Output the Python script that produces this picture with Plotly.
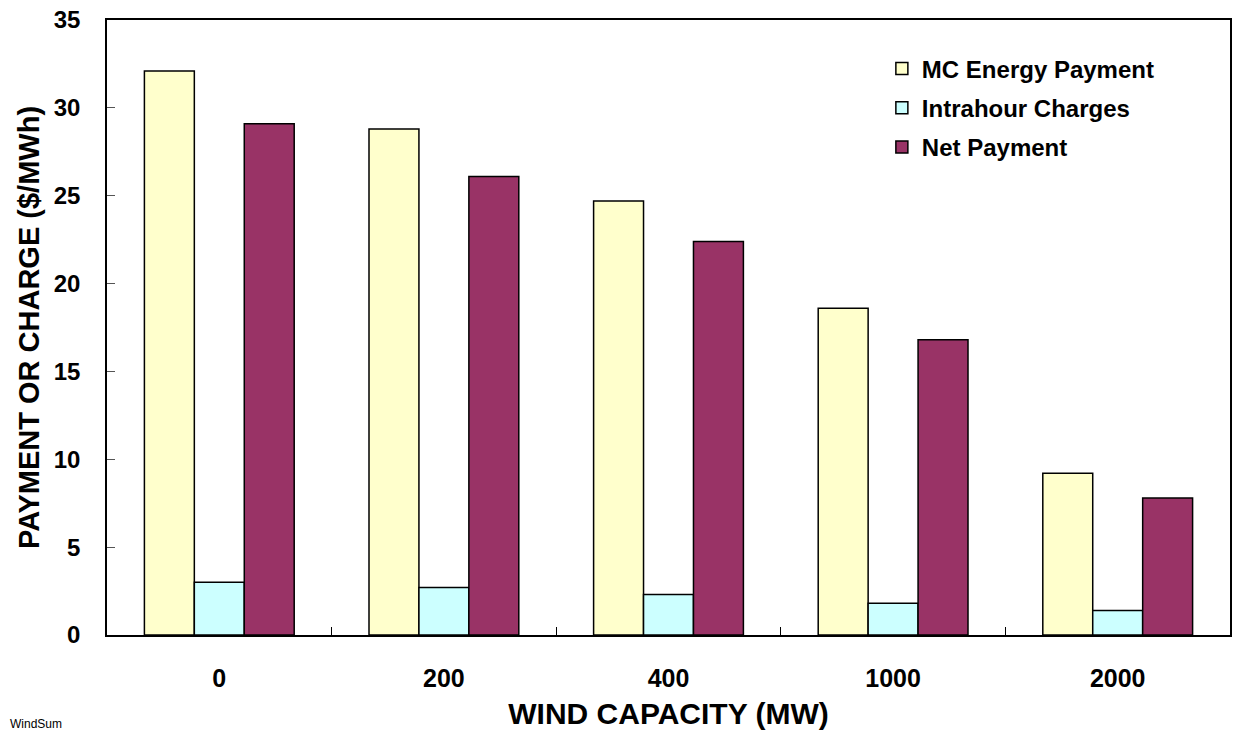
import plotly.graph_objects as go

# Wind capacity scenarios (MW) and payments/charges ($/MWh)
capacity = ["0", "200", "400", "1000", "2000"]
mc_energy_payment = [32.1, 28.8, 24.7, 18.6, 9.2]
intrahour_charges = [3.0, 2.7, 2.3, 1.8, 1.4]
net_payment = [29.1, 26.1, 22.4, 16.8, 7.8]

series = [
    ("MC Energy Payment", mc_energy_payment, "#FFFFCC"),
    ("Intrahour Charges", intrahour_charges, "#CCFFFF"),
    ("Net Payment", net_payment, "#993366"),
]

FONT = "Liberation Sans, Arial, sans-serif"

fig = go.Figure()
for i, (name, vals, color) in enumerate(series):
    fig.add_trace(go.Bar(
        x=capacity, y=vals, name=name, legendgroup=f"g{i}",
        marker=dict(color=color, line=dict(color="black", width=1.5)),
    ))

fig.update_layout(
    width=1238, height=731,
    margin=dict(l=107, r=6, t=16, b=96),
    paper_bgcolor="white", plot_bgcolor="white",
    barmode="group", bargap=0.333, bargroupgap=0,
    font=dict(family=FONT, color="black"),
    showlegend=True,
    legend=dict(
        x=0.69, y=0.957, xanchor="left", yanchor="top",
        font=dict(family=FONT, size=24, color="black", weight="bold"),
        bgcolor="rgba(0,0,0,0)", tracegroupgap=5,
        itemwidth=30,
    ),
    xaxis=dict(
        type="category",
        showline=True, linecolor="black", linewidth=1.5, mirror=True,
        ticks="inside", tickson="boundaries", ticklen=8, tickcolor="black",
        tickfont=dict(family=FONT, size=25, color="black", weight="bold"),
        ticklabelstandoff=20,
        showgrid=False,
        title=dict(text="WIND CAPACITY (MW)", standoff=12,
                   font=dict(family=FONT, size=30, color="black", weight="bold")),
    ),
    yaxis=dict(
        range=[0, 35], dtick=5,
        showline=True, linecolor="black", linewidth=1.5, mirror=True,
        ticks="inside", ticklen=8, tickcolor="#555555",
        tickfont=dict(family=FONT, size=24, color="black", weight="bold"),
        ticklabelstandoff=20,
        showgrid=False, zeroline=False,
        title=dict(text="PAYMENT OR CHARGE ($/MWh)", standoff=6,
                   font=dict(family=FONT, size=29, color="black", weight="bold")),
    ),
)

fig.add_annotation(
    text="WindSum", xref="paper", yref="paper", x=-0.088, y=-0.145,
    xanchor="left", yanchor="middle", showarrow=False,
    font=dict(family=FONT, size=12, color="black"),
)

fig.write_html("out.html")
